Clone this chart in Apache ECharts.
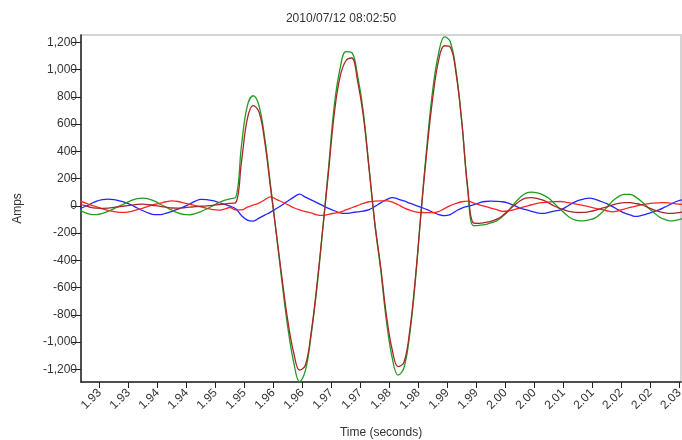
<!DOCTYPE html>
<html>
<head>
<meta charset="utf-8">
<script src="https://cdn.jsdelivr.net/npm/echarts@6/dist/echarts.min.js"></script>
<style>
  html, body { margin: 0; padding: 0; background: #fff; }
  #main { width: 682px; height: 440px; }
</style>
</head>
<body>
<div id="main"></div>
<script>
// sample instants (seconds)
const times = [
  1.924, 1.925, 1.926, 1.927, 1.928, 1.929, 1.930, 1.931, 1.932, 1.933,
  1.934, 1.935, 1.936, 1.937, 1.938, 1.939, 1.940, 1.941, 1.942, 1.943,
  1.944, 1.945, 1.946, 1.947, 1.948, 1.949, 1.950, 1.951, 1.952, 1.953,
  1.954, 1.955, 1.956, 1.957, 1.958, 1.959, 1.960, 1.961, 1.962, 1.963,
  1.964, 1.965, 1.966, 1.967, 1.968, 1.969, 1.970, 1.971, 1.972, 1.973,
  1.974, 1.975, 1.976, 1.977, 1.978, 1.979, 1.980, 1.981, 1.982, 1.983,
  1.984, 1.985, 1.986, 1.987, 1.988, 1.989, 1.990, 1.991, 1.992, 1.993,
  1.994, 1.995, 1.996, 1.997, 1.998, 1.999, 2.000, 2.001, 2.002, 2.003,
  2.004, 2.005, 2.006, 2.007, 2.008, 2.009, 2.010, 2.011, 2.012, 2.013,
  2.014, 2.015, 2.016, 2.017, 2.018, 2.019, 2.020, 2.021, 2.022, 2.023,
  2.024, 2.025, 2.026, 2.027, 2.028
];

// amps, one value per sample
const greenAmps = [
  -30, -50, -62, -64, -56, -40, -20, 0, 20, 40,
  53, 57, 50, 34, 12, -10, -32, -52, -63, -66,
  -58, -42, -22, 0, 22, 40, 52, 62, 450, 735,
  808, 735, 495, 150, -210, -570, -900, -1150, -1290, -1210,
  -950, -600, -170, 280, 740, 1010, 1132, 1125, 960, 690,
  275, -140, -470, -850, -1120, -1242, -1190, -945, -540, -25,
  455, 860, 1122, 1240, 1205, 990, 610, 120, -145, -143,
  -138, -125, -110, -78, -38, 15, 60, 92, 100, 95,
  80, 55, 15, -26, -65, -95, -108, -110, -102, -88,
  -55, -12, 35, 68, 84, 84, 64, 32, -8, -45,
  -80, -100, -110, -105, -95
];

const darkRedAmps = [
  12, 2, -12, -17, -18, -17, -12, -6, 0, 6,
  11, 12, 8, 2, -4, -10, -16, -17, -14, -10,
  -6, -3, 0, 4, 9, 13, 18, 24, 330, 640,
  735, 690, 470, 130, -200, -540, -850, -1080, -1205, -1170,
  -930, -580, -170, 250, 680, 950, 1065, 1085, 920, 660,
  270, -130, -450, -810, -1060, -1180, -1150, -920, -520, -30,
  420, 800, 1070, 1175, 1165, 970, 610, 140, -125, -128,
  -122, -114, -98, -72, -36, 2, 36, 56, 60, 54,
  42, 20, -3, -20, -35, -44, -49, -48, -42, -33,
  -20, -7, 8, 18, 24, 23, 17, 8, -10, -28,
  -42, -52, -56, -52, -46
];

const redAmps = [
  35, 22, 6, -8, -22, -34, -42, -48, -48, -40,
  -28, -16, -2, 10, 20, 30, 36, 32, 22, 12,
  2, -8, -18, -27, -32, -24, -12, -30, -30, -10,
  5, 20, 45, 66, 48, 28, 8, -14, -30, -42,
  -52, -66, -70, -62, -54, -46, -30, -14, 2, 18,
  30, 34, 36, 37, 28, 8, -14, -32, -44, -49,
  -50, -50, -42, -20, 2, 18, 30, 34, 22, 8,
  -4, -16, -28, -40, -38, -28, -16, -4, 8, 18,
  24, 28, 31, 32, 26, 18, 10, 2, -8, -18,
  -26, -36, -44, -36, -24, -12, -2, 8, 15, 20,
  22, 24, 20, 15, 10
];

const blueAmps = [
  -22, -5, 15, 35, 46, 49, 45, 36, 24, 6,
  -16, -36, -54, -64, -64, -54, -40, -24, -8, 12,
  34, 48, 46, 38, 26, 12, -2, -22, -72, -105,
  -112, -90, -68, -46, -20, 6, 36, 64, 86, 64,
  44, 24, 2, -18, -36, -52, -56, -50, -44, -38,
  -28, -4, 22, 45, 60, 50, 36, 20, 4, -12,
  -28, -48, -64, -72, -64, -38, -16, -4, 8, 22,
  32, 34, 33, 30, 20, 4, -16, -28, -40, -52,
  -56, -48, -38, -30, -8, 18, 38, 50, 57, 48,
  32, 16, -6, -30, -52, -66, -78, -70, -58, -44,
  -30, -10, 12, 32, 44
];

// axis ticks
const xTickValues = [
  1.9275, 1.9325, 1.9375, 1.9425, 1.9475, 1.9525, 1.9575, 1.9625, 1.9675, 1.9725,
  1.9775, 1.9825, 1.9875, 1.9925, 1.9975, 2.0025, 2.0075, 2.0125, 2.0175, 2.0225, 2.0275
];
const xTickLabels = [
  '1.93', '1.93', '1.94', '1.94', '1.95', '1.95', '1.96', '1.96', '1.97', '1.97',
  '1.98', '1.98', '1.99', '1.99', '2.00', '2.00', '2.01', '2.01', '2.02', '2.02', '2.03'
];
const yTickValues = [-1200, -1000, -800, -600, -400, -200, 0, 200, 400, 600, 800, 1000, 1200];
const yTickLabels = ['-1,200', '-1,000', '-800', '-600', '-400', '-200', '0', '200', '400', '600', '800', '1,000', '1,200'];

const FONT = 'Liberation Sans, Arial, sans-serif';

function pairs(vals) {
  return times.map((t, i) => [t, vals[i]]);
}

function nearestIndex(list, v) {
  let best = 0;
  list.forEach((x, i) => { if (Math.abs(x - v) < Math.abs(list[best] - v)) best = i; });
  return best;
}

function lineSeries(name, color, vals) {
  return {
    name: name,
    type: 'line',
    data: pairs(vals),
    showSymbol: false,
    smooth: 0.4,
    lineStyle: { color: color, width: 1.3 },
    itemStyle: { color: color }
  };
}

const chart = echarts.init(document.getElementById('main'));

chart.setOption({
  animation: false,
  title: {
    text: '2010/07/12 08:02:50',
    left: 'center',
    top: 8,
    textStyle: { fontSize: 12, fontWeight: 'normal', color: '#333', fontFamily: FONT }
  },
  grid: {
    left: 81, right: 1, top: 35, bottom: 58,
    outerBoundsMode: 'none',
    containLabel: false,
    show: true,
    borderColor: '#d4d4d4',
    borderWidth: 2
  },
  xAxis: {
    type: 'value',
    min: 1.9243,
    max: 2.0278,
    name: 'Time (seconds)',
    nameLocation: 'middle',
    nameGap: 45,
    nameTextStyle: { fontSize: 12, color: '#333', fontFamily: FONT },
    axisLine: { onZero: false, lineStyle: { color: '#222', width: 1.5 } },
    axisTick: { customValues: xTickValues, length: 6, lineStyle: { color: '#222' } },
    axisLabel: {
      customValues: xTickValues,
      rotate: 45,
      margin: 9,
      fontSize: 12,
      color: '#333',
      fontFamily: FONT,
      formatter: v => xTickLabels[nearestIndex(xTickValues, v)]
    },
    splitLine: { show: false }
  },
  yAxis: {
    type: 'value',
    min: -1293,
    max: 1254,
    name: 'Amps',
    nameLocation: 'middle',
    nameGap: 57,
    nameTextStyle: { fontSize: 12, color: '#333', fontFamily: FONT },
    axisLine: { show: true, onZero: false, lineStyle: { color: '#222', width: 1.5 } },
    axisTick: { show: true, customValues: yTickValues, length: 9, lineStyle: { color: '#222' } },
    axisLabel: {
      customValues: yTickValues,
      margin: 4,
      fontSize: 12,
      color: '#333',
      fontFamily: FONT,
      formatter: v => yTickLabels[nearestIndex(yTickValues, v)]
    },
    splitLine: { show: false }
  },
  series: [
    lineSeries('C', '#2424ff', blueAmps),
    lineSeries('B', '#ff2424', redAmps),
    lineSeries('A', '#249a24', greenAmps),
    lineSeries('N', '#a82828', darkRedAmps)
  ]
});
</script>
</body>
</html>
